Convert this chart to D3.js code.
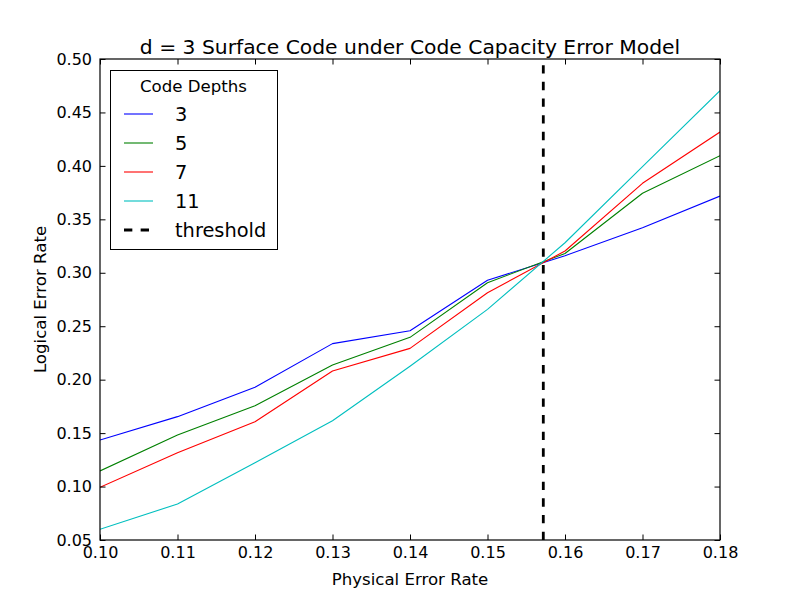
<!DOCTYPE html>
<html>
<head>
<meta charset="utf-8">
<script src="https://cdn.jsdelivr.net/npm/d3@7"></script>
<style>
body{margin:0;background:#fff;}
text{font-family:"DejaVu Sans",sans-serif;}
</style>
</head>
<body>
<svg id="chart" width="800" height="600"></svg>
<script>
const physicalErrorRates = [0.10, 0.11, 0.12, 0.13, 0.14, 0.15, 0.16, 0.17, 0.18];
const depths = ["3", "5", "7", "11"];
const depth3 = [0.1436, 0.1654, 0.1929, 0.2337, 0.2458, 0.2930, 0.3160, 0.3422, 0.3718];
const depth5 = [0.1146, 0.1482, 0.1757, 0.2137, 0.2396, 0.2907, 0.3180, 0.3744, 0.4096];
const depth7 = [0.0993, 0.1317, 0.1607, 0.2081, 0.2293, 0.2813, 0.3204, 0.3837, 0.4317];
const depth11 = [0.0600, 0.0837, 0.1223, 0.1616, 0.2125, 0.2658, 0.3281, 0.3993, 0.4703];
const seriesColors = ["#0000ff", "#008000", "#ff0000", "#00bfbf"];
const threshold = 0.1572;
const xTicks = [0.10, 0.11, 0.12, 0.13, 0.14, 0.15, 0.16, 0.17, 0.18];
const yTicks = [0.05, 0.10, 0.15, 0.20, 0.25, 0.30, 0.35, 0.40, 0.45, 0.50];
const titleText = "d = 3 Surface Code under Code Capacity Error Model";
const xLabel = "Physical Error Rate";
const yLabel = "Logical Error Rate";
const legendTitle = "Code Depths";

const seriesValues = [depth3, depth5, depth7, depth11];
const svg = d3.select("#chart");
const L = 100, R = 720, T = 59, B = 540;
const x = d3.scaleLinear().domain([0.10, 0.18]).range([L, R]);
const y = d3.scaleLinear().domain([0.05, 0.50]).range([B, T]);

svg.append("defs").append("clipPath").attr("id","clip")
  .append("rect").attr("x",L).attr("y",T).attr("width",R-L).attr("height",B-T);

const plot = svg.append("g").attr("clip-path","url(#clip)");
const line = d3.line().x((d,i)=>x(physicalErrorRates[i])).y(d=>y(d));
seriesValues.forEach((vals,k)=>{
  plot.append("path").datum(vals).attr("d", line)
    .attr("fill","none").attr("stroke",seriesColors[k]).attr("stroke-width",1.1)
    .attr("stroke-linejoin","round");
});
plot.append("line").attr("x1",x(threshold)).attr("x2",x(threshold))
  .attr("y1",B).attr("y2",T).attr("stroke","#000").attr("stroke-width",2.8)
  .attr("stroke-dasharray","8.33,8.33");

const fmt = d3.format(".2f");
const tk = 5.5;
const xb = svg.append("g").attr("transform",`translate(0,${B})`)
  .call(d3.axisBottom(x).tickValues(xTicks).tickFormat(fmt).tickSizeInner(-tk).tickSizeOuter(0).tickPadding(8));
const xt = svg.append("g").attr("transform",`translate(0,${T})`)
  .call(d3.axisTop(x).tickValues(xTicks).tickFormat("").tickSizeInner(-tk).tickSizeOuter(0));
const yl = svg.append("g").attr("transform",`translate(${L},0)`)
  .call(d3.axisLeft(y).tickValues(yTicks).tickFormat(fmt).tickSizeInner(-tk).tickSizeOuter(0).tickPadding(8));
const yr = svg.append("g").attr("transform",`translate(${R},0)`)
  .call(d3.axisRight(y).tickValues(yTicks).tickFormat("").tickSizeInner(-tk).tickSizeOuter(0));
[xb,xt,yl,yr].forEach(g=>{
  g.select(".domain").remove();
  g.selectAll("line").attr("stroke","#000").attr("stroke-width",1);
  g.selectAll("text").attr("font-family","DejaVu Sans").attr("font-size",16).attr("fill","#000");
});
xb.selectAll("text").attr("dy","0.71em").attr("y",7);
svg.append("rect").attr("x",L).attr("y",T).attr("width",R-L).attr("height",B-T)
  .attr("fill","none").attr("stroke","#000").attr("stroke-width",1.2);

svg.append("text").attr("x",(L+R)/2).attr("y",53.5).attr("text-anchor","middle")
  .attr("font-size",20.3).text(titleText);
svg.append("text").attr("x",(L+R)/2).attr("y",585).attr("text-anchor","middle")
  .attr("font-size",16.6).text(xLabel);
svg.append("text").attr("transform",`translate(46,${(T+B)/2}) rotate(-90)`).attr("text-anchor","middle")
  .attr("font-size",16.6).text(yLabel);

const lg = svg.append("g");
lg.append("rect").attr("x",110.5).attr("y",70.5).attr("width",167).attr("height",179)
  .attr("fill","#fff").attr("stroke","#000").attr("stroke-width",1);
lg.append("text").attr("x",193.5).attr("y",86).attr("dy","0.35em").attr("text-anchor","middle")
  .attr("font-size",16.6).text(legendTitle);
const entries = depths.map((d,i)=>({label:d,color:seriesColors[i],dash:null,w:1.1}))
  .concat([{label:"threshold",color:"#000",dash:"8.33,8.33",w:2.8}]);
entries.forEach((e,i)=>{
  const yy = 114 + i*29;
  lg.append("line").attr("x1",124).attr("x2",153).attr("y1",yy).attr("y2",yy)
    .attr("stroke",e.color).attr("stroke-width",e.w).attr("stroke-dasharray",e.dash);
  lg.append("text").attr("x",175).attr("y",yy).attr("dy","0.35em").attr("font-size",19.4).text(e.label);
});
</script>
</body>
</html>
